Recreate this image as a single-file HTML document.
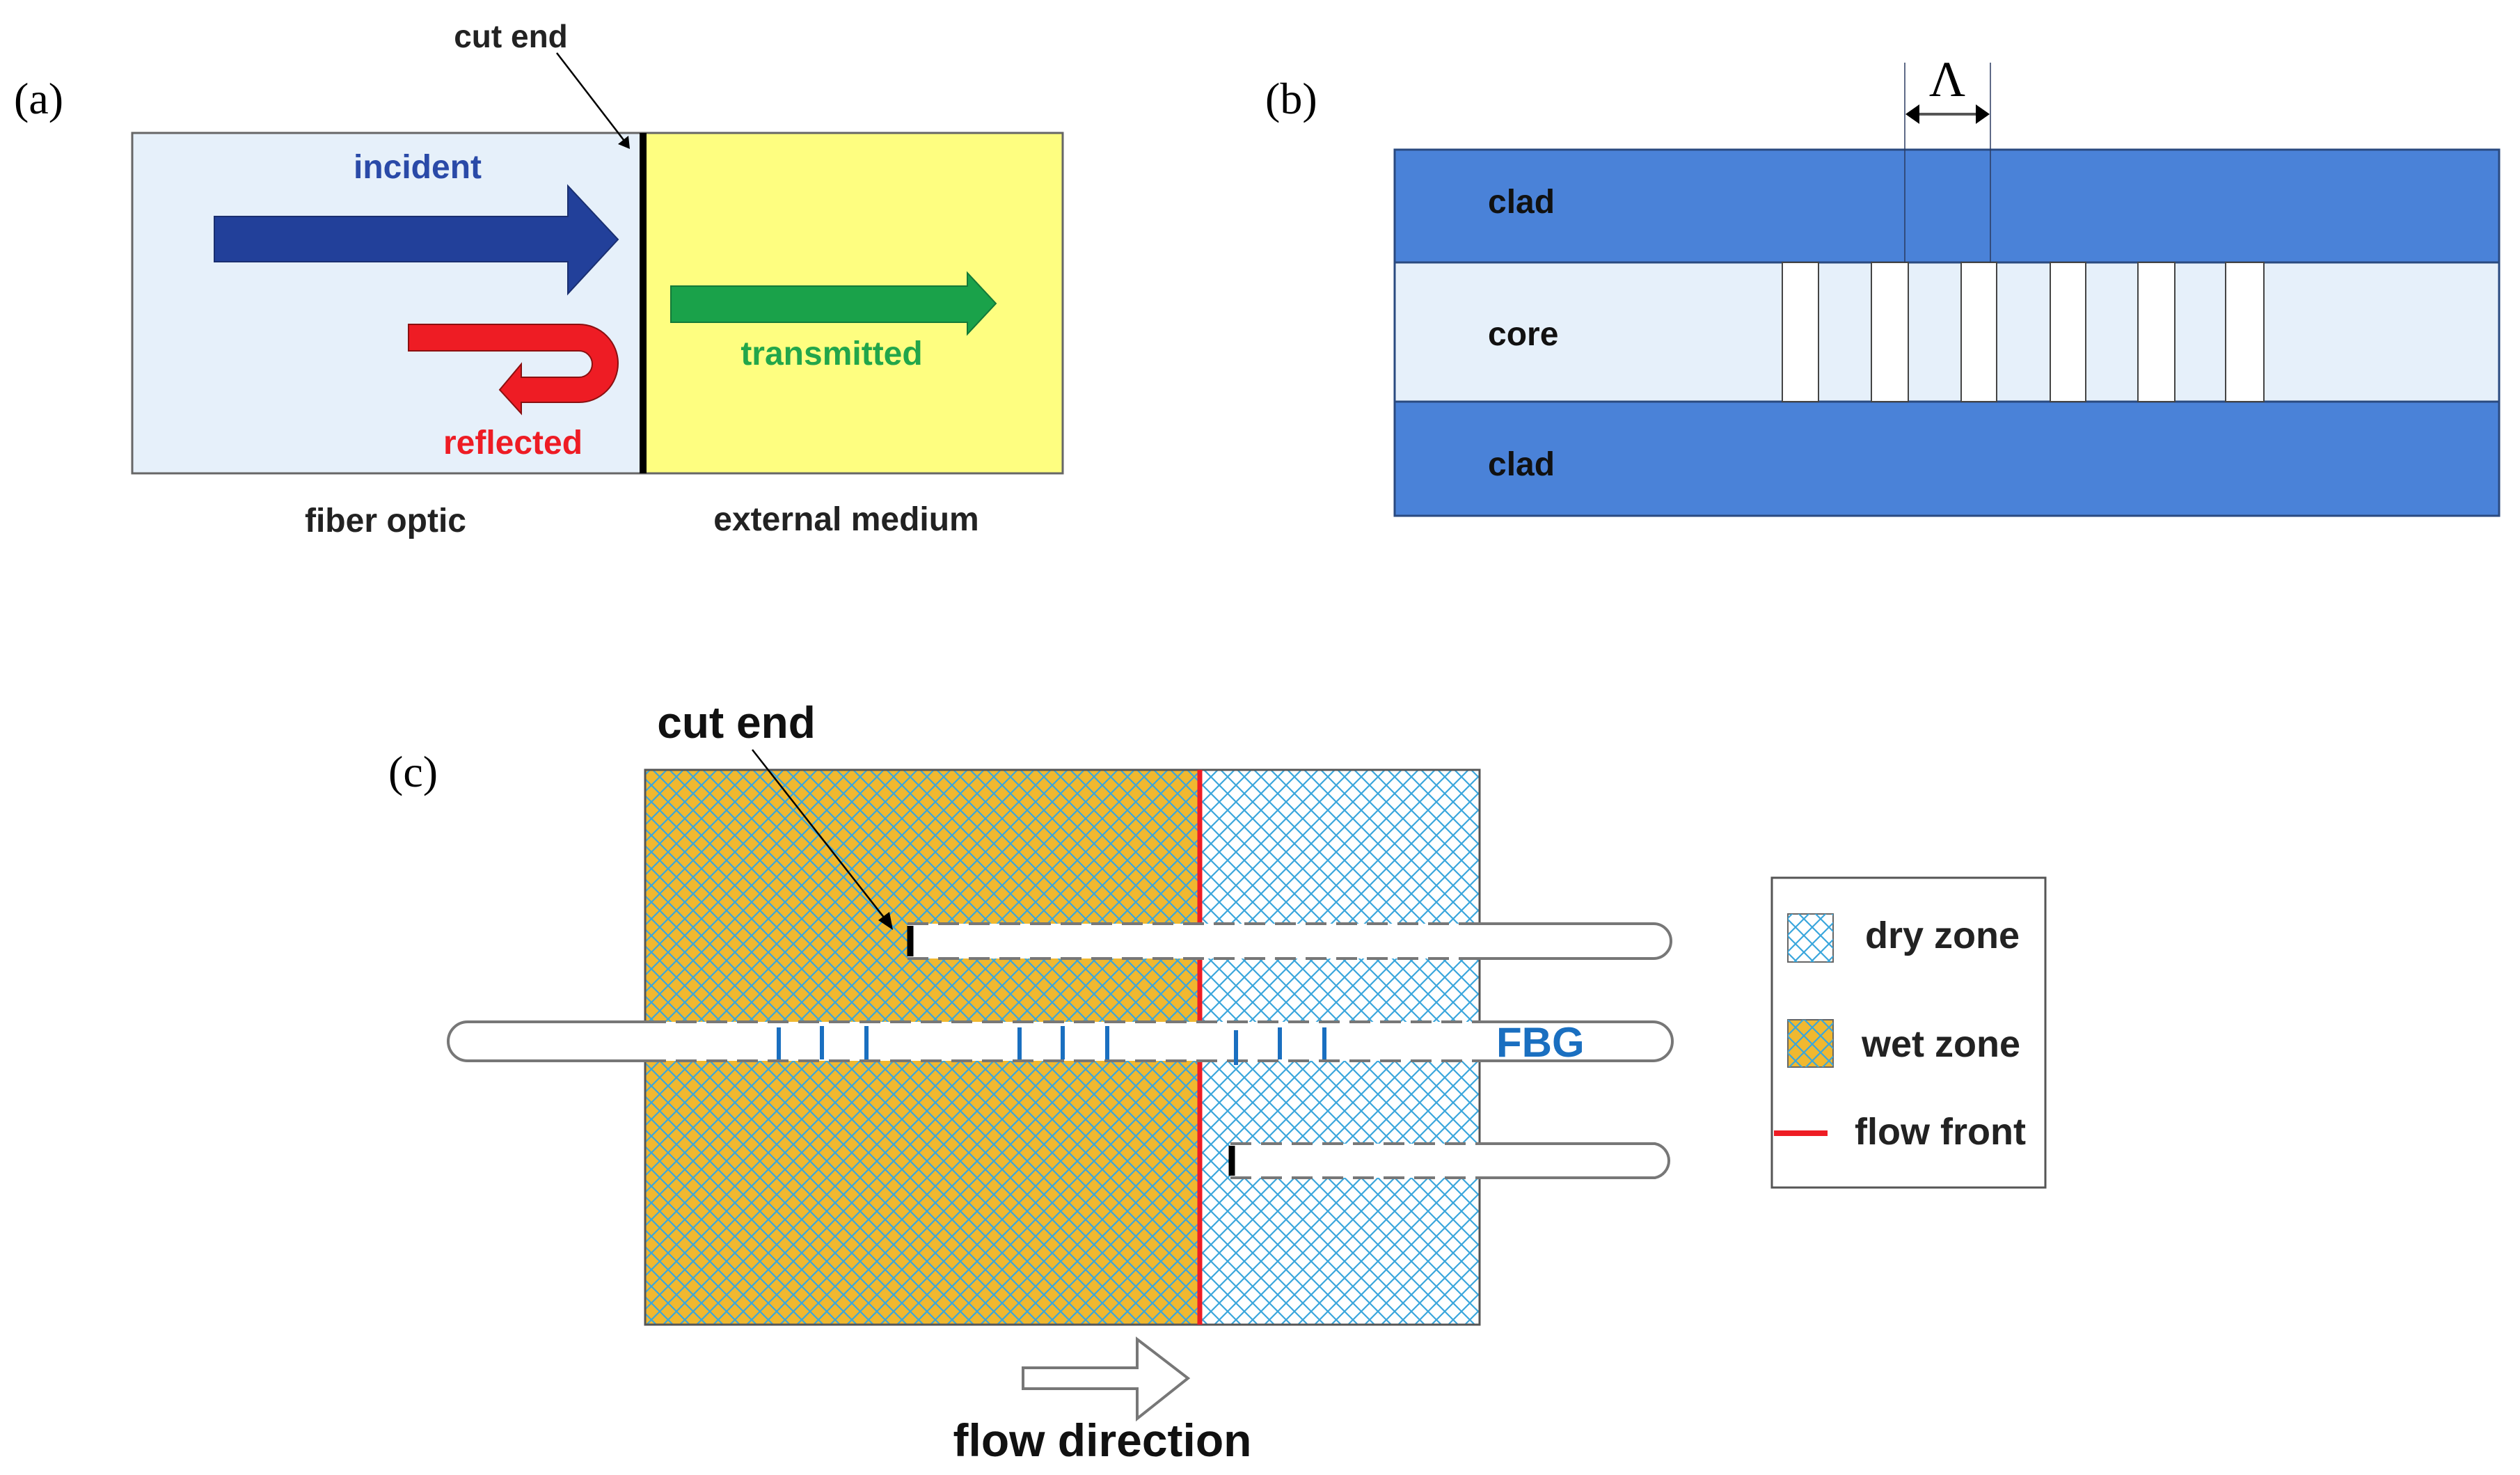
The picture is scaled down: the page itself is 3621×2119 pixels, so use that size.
<!DOCTYPE html>
<html><head><meta charset="utf-8"><style>
html,body{margin:0;padding:0;background:#fff}
svg{display:block}
text{font-family:"Liberation Sans",Arial,sans-serif;font-weight:bold}
.ser{font-family:"Liberation Serif",serif;font-weight:normal}
</style></head><body>
<svg width="3621" height="2119" viewBox="0 0 3621 2119" xmlns="http://www.w3.org/2000/svg">
<defs>
<pattern id="hatch" width="24" height="24" patternUnits="userSpaceOnUse">
<path d="M0,0 L24,24 M24,0 L0,24" stroke="#3aa6dc" stroke-width="2.2" fill="none"/>
</pattern>
<marker id="ah" markerWidth="10" markerHeight="10" refX="9" refY="5" orient="auto" markerUnits="userSpaceOnUse">
<path d="M0,0 L10,5 L0,10 Z" fill="#000"/>
</marker>
</defs>

<!-- Panel (a) -->
<text x="20" y="163" font-size="64" class="ser" fill="#000">(a)</text>
<rect x="190" y="191" width="734" height="489" fill="#e6f0fa" stroke="#666" stroke-width="3"/>
<rect x="924" y="191" width="603" height="489" fill="#fefe80" stroke="#666" stroke-width="3"/>
<line x1="924" y1="191" x2="924" y2="680" stroke="#000" stroke-width="10"/>
<text x="734" y="68" font-size="46" text-anchor="middle" fill="#222">cut end</text>
<line x1="800" y1="76" x2="903" y2="210" stroke="#000" stroke-width="2.5"/>
<path d="M888,207 L905,214 L903,195 Z" fill="#000"/>
<text x="600" y="256" font-size="48" text-anchor="middle" fill="#2a4aa8">incident</text>
<path d="M308,311 L816,311 L816,267 L888,344 L816,422 L816,376 L308,376 Z" fill="#22409a" stroke="#1a2f70" stroke-width="2"/>
<path d="M587,466 L832,466 A56,56 0 0 1 832,578 L749,578 L749,594 L718,560 L749,523 L749,542 L832,542 A18,18 0 0 0 832,504 L587,504 Z" fill="#ee1c24" stroke="#8a1010" stroke-width="2"/>
<text x="737" y="652" font-size="48" text-anchor="middle" fill="#ee1c24">reflected</text>
<path d="M964,411 L1390,411 L1390,392 L1431,436 L1390,480 L1390,463 L964,463 Z" fill="#1aa24a" stroke="#147a38" stroke-width="2"/>
<text x="1195" y="524" font-size="48" text-anchor="middle" fill="#22a64a">transmitted</text>
<text x="554" y="764" font-size="48" text-anchor="middle" fill="#222">fiber optic</text>
<text x="1216" y="762" font-size="48" text-anchor="middle" fill="#222">external medium</text>

<!-- Panel (b) -->
<text x="1818" y="163" font-size="64" class="ser" fill="#000">(b)</text>
<rect x="2004" y="215" width="1587" height="162" fill="#4a82d8" stroke="#2a4a80" stroke-width="3"/>
<rect x="2004" y="377" width="1587" height="200" fill="#e6f0fa" stroke="#2a4a80" stroke-width="3"/>
<rect x="2004" y="577" width="1587" height="164" fill="#4a82d8" stroke="#2a4a80" stroke-width="3"/>
<g fill="#fff" stroke="#444" stroke-width="2">
<rect x="2561" y="377" width="52" height="200"/>
<rect x="2689" y="377" width="53" height="200"/>
<rect x="2818" y="377" width="51" height="200"/>
<rect x="2946" y="377" width="51" height="200"/>
<rect x="3072" y="377" width="53" height="200"/>
<rect x="3198" y="377" width="55" height="200"/>
</g>
<line x1="2737" y1="90" x2="2737" y2="377" stroke="#2a3a60" stroke-width="1.5"/>
<line x1="2860" y1="90" x2="2860" y2="377" stroke="#2a3a60" stroke-width="1.5"/>
<line x1="2745" y1="164" x2="2852" y2="164" stroke="#555" stroke-width="4"/>
<path d="M2738,164 L2758,150 L2758,178 Z" fill="#000"/>
<path d="M2859,164 L2839,150 L2839,178 Z" fill="#000"/>
<text x="2798" y="138" font-size="72" class="ser" text-anchor="middle" fill="#000">Λ</text>
<text x="2138" y="306" font-size="48" fill="#111">clad</text>
<text x="2138" y="496" font-size="48" fill="#111">core</text>
<text x="2138" y="683" font-size="48" fill="#111">clad</text>

<!-- Panel (c) -->
<text x="558" y="1130" font-size="64" class="ser" fill="#000">(c)</text>
<rect x="927" y="1106" width="797" height="797" fill="#f0b830"/>
<rect x="927" y="1106" width="797" height="797" fill="url(#hatch)"/>
<rect x="1724" y="1106" width="402" height="797" fill="#fff"/>
<rect x="1724" y="1106" width="402" height="797" fill="url(#hatch)"/>
<rect x="927" y="1106" width="1199" height="797" fill="none" stroke="#555" stroke-width="3"/>
<line x1="1724" y1="1106" x2="1724" y2="1903" stroke="#ee1c24" stroke-width="7"/>

<!-- fibers -->
<g stroke="#777" stroke-width="4">
<path d="M1304,1327 L2376,1327 A25,25 0 0 1 2376,1377 L1304,1377 Z" fill="#fff" stroke="none"/>
<path d="M2126,1327 L2376,1327 A25,25 0 0 1 2376,1377 L2126,1377" fill="none"/>
<path d="M1304,1327 L2126,1327 M1304,1377 L2126,1377" fill="none" stroke-dasharray="30,14"/>

<path d="M672,1468 L2375,1468 A28,28 0 0 1 2375,1524 L672,1524 A28,28 0 0 1 672,1468 Z" fill="#fff" stroke="none"/>
<path d="M927,1468 L672,1468 A28,28 0 0 0 672,1524 L927,1524" fill="none"/>
<path d="M2126,1468 L2375,1468 A28,28 0 0 1 2375,1524 L2126,1524" fill="none"/>
<path d="M927,1468 L2126,1468 M927,1524 L2126,1524" fill="none" stroke-dasharray="30,14"/>

<path d="M1768,1643 L2378,1643 A25,25 0 0 1 2378,1692 L1768,1692 Z" fill="#fff" stroke="none"/>
<path d="M2126,1643 L2378,1643 A25,25 0 0 1 2378,1692 L2126,1692" fill="none"/>
<path d="M1768,1643 L2126,1643 M1768,1692 L2126,1692" fill="none" stroke-dasharray="30,14"/>
</g>
<line x1="1308" y1="1330" x2="1308" y2="1374" stroke="#000" stroke-width="9"/>
<line x1="1770" y1="1646" x2="1770" y2="1689" stroke="#000" stroke-width="9"/>
<g stroke="#1a6fc0" stroke-width="6">
<line x1="1119" y1="1476" x2="1119" y2="1522"/><line x1="1181" y1="1474" x2="1181" y2="1522"/><line x1="1245" y1="1474" x2="1245" y2="1522"/>
<line x1="1465" y1="1476" x2="1465" y2="1522"/><line x1="1527" y1="1474" x2="1527" y2="1522"/><line x1="1591" y1="1474" x2="1591" y2="1522"/>
<line x1="1776" y1="1480" x2="1776" y2="1530"/><line x1="1839" y1="1476" x2="1839" y2="1522"/><line x1="1903" y1="1476" x2="1903" y2="1522"/>
</g>
<text x="2150" y="1518" font-size="60" fill="#1a6fc0">FBG</text>

<text x="1058" y="1060" font-size="64" text-anchor="middle" fill="#111">cut end</text>
<line x1="1081" y1="1077" x2="1278" y2="1328" stroke="#000" stroke-width="2.5"/>
<path d="M1283,1336 L1262,1322 L1278,1310 Z" fill="#000"/>

<!-- legend -->
<rect x="2546" y="1261" width="393" height="445" fill="#fff" stroke="#555" stroke-width="3"/>
<rect x="2569" y="1313" width="65" height="69" fill="#fff" stroke="#666" stroke-width="2"/>
<rect x="2569" y="1313" width="65" height="69" fill="url(#hatch)"/>
<rect x="2569" y="1465" width="65" height="68" fill="#f0b830" stroke="#666" stroke-width="2"/>
<rect x="2569" y="1465" width="65" height="68" fill="url(#hatch)"/>
<line x1="2549" y1="1628" x2="2626" y2="1628" stroke="#ee1c24" stroke-width="8"/>
<text x="2680" y="1362" font-size="54" fill="#222">dry zone</text>
<text x="2675" y="1518" font-size="54" fill="#222">wet zone</text>
<text x="2665" y="1644" font-size="54" fill="#222">flow front</text>

<!-- flow direction -->
<path d="M1470,1965 L1634,1965 L1634,1924 L1707,1980 L1634,2038 L1634,1995 L1470,1995 Z" fill="#fff" stroke="#777" stroke-width="4"/>
<text x="1584" y="2092" font-size="66" text-anchor="middle" fill="#111">flow direction</text>
</svg>
</body></html>
